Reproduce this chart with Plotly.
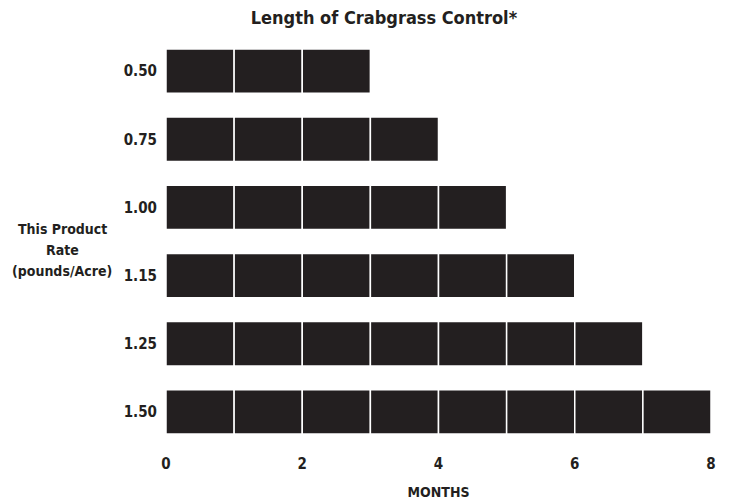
import plotly.graph_objects as go

rates = ["0.50", "0.75", "1.00", "1.15", "1.25", "1.50"]
months = [3, 4, 5, 6, 7, 8]
x_ticks = [0, 2, 4, 6, 8]
y_title_lines = ["This Product", "Rate", "(pounds/Acre)"]

FONT = "DejaVu Sans Condensed, Liberation Sans Narrow, Arial Narrow, sans-serif"
BAR = "#231f20"
TXT = "#231f20"

fig = go.Figure()
for k in range(max(months)):
    fig.add_trace(go.Bar(
        y=rates,
        x=[1 if m > k else None for m in months],
        base=[k if m > k else None for m in months],
        orientation="h",
        marker=dict(color=BAR, line=dict(color="white", width=1.5)),
        hoverinfo="skip",
        showlegend=False,
    ))

fig.update_layout(
    width=723, height=496,
    margin=dict(l=158, r=20, t=29, b=58, autoexpand=False),
    paper_bgcolor="white", plot_bgcolor="white",
    barmode="overlay", bargap=0.35,
    font=dict(family=FONT, color=TXT, size=15),
    title=dict(text="<b>Length of Crabgrass Control*</b>", x=0.52, xanchor="center",
               y=0.98, yanchor="middle", font=dict(family=FONT, size=18, color=TXT)),
    xaxis=dict(range=[0, 8], tickvals=x_ticks, ticktext=[f"<b>{v}</b>" for v in x_ticks],
               showgrid=False, zeroline=False, showline=False, automargin=False,
               ticks="outside", ticklen=4, tickcolor="rgba(0,0,0,0)",
               tickfont=dict(family=FONT, size=15, color=TXT),
               title=dict(text="<b>MONTHS</b>", font=dict(family=FONT, size=14, color=TXT), standoff=15)),
    yaxis=dict(categoryorder="array", categoryarray=rates, autorange="reversed",
               tickvals=rates, ticktext=[f"<b>{r}</b>" for r in rates],
               showgrid=False, zeroline=False, showline=False, automargin=False,
               ticks="outside", ticklen=5, tickcolor="rgba(0,0,0,0)",
               tickfont=dict(family=FONT, size=15, color=TXT)),
)

for i, line in enumerate(y_title_lines):
    fig.add_annotation(
        text=f"<b>{line}</b>",
        xref="paper", yref="paper", x=-0.19, y=0.5306 - i * 0.0514,
        xanchor="center", yanchor="middle",
        showarrow=False, align="center",
        font=dict(family=FONT, size=14, color=TXT),
    )

fig.write_html("out.html")
